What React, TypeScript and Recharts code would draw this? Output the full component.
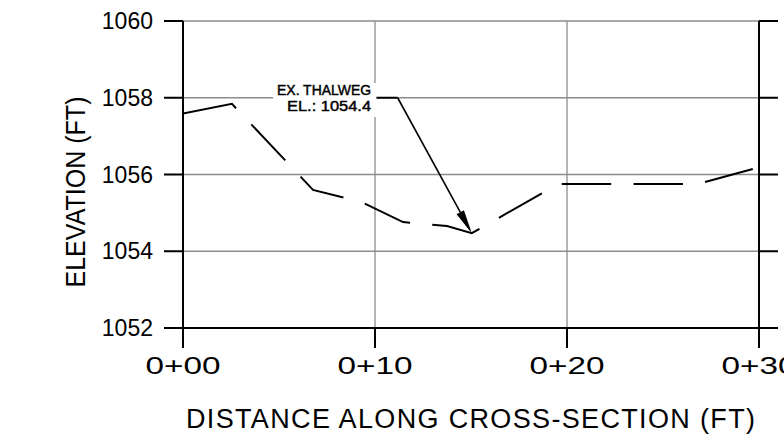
import React from 'react';
import {
  ComposedChart,
  Line,
  XAxis,
  YAxis,
  CartesianGrid,
  ReferenceLine,
  ReferenceArea,
} from 'recharts';

// ---- data ----
const distanceFt = [0, 2.55, 6.77, 9.32, 11.46, 13.75, 15.04, 19.53, 26.8, 30];
const elevationFt = [1057.59, 1057.84, 1055.6, 1055.28, 1054.76, 1054.66, 1054.47, 1055.75, 1055.75, 1056.19];
const xTickValues = [0, 10, 20, 30];
const xTickLabels = ['0+00', '0+10', '0+20', '0+30'];
const yTickValues = [1052, 1054, 1056, 1058, 1060];
const calloutLines = ['EX. THALWEG', 'EL.: 1054.4'];
const thalwegPoint = { x: 15.04, y: 1054.47 };
const leaderBend = { x: 11.18, y: 1058 };
const calloutBox = { x1: 4.69, x2: 10.08, y1: 1057.5, y2: 1058.385 };
const xTitle = 'DISTANCE  ALONG  CROSS-SECTION  (FT)';
const yTitle = 'ELEVATION  (FT)';

const data = distanceFt.map((d, i) => ({ d, e: elevationFt[i] }));

const FONT = "'Liberation Sans', Arial, sans-serif";

const XTick = (props: any) => {
  const { x, y, payload } = props;
  const idx = xTickValues.indexOf(payload.value);
  const label = idx >= 0 ? xTickLabels[idx] : String(payload.value);
  return (
    <text
      x={x}
      y={y + 26}
      textAnchor="middle"
      fontFamily={FONT}
      fontSize={24}
      fill="#000"
      textLength={75}
      lengthAdjust="spacingAndGlyphs"
    >
      {label}
    </text>
  );
};

const XTitle = () => (
  <text
    x={470.5}
    y={428}
    textAnchor="middle"
    fontFamily={FONT}
    fontSize={27}
    fill="#000"
    textLength={569}
    lengthAdjust="spacing"
  >
    {xTitle}
  </text>
);

const YTitle = () => (
  <text
    x={85}
    y={192}
    transform="rotate(-90, 85, 192)"
    textAnchor="middle"
    fontFamily={FONT}
    fontSize={27}
    fill="#000"
    textLength={191}
    lengthAdjust="spacingAndGlyphs"
  >
    {yTitle}
  </text>
);

const ArrowShape = (props: any) => {
  const x1 = Number(props.x1);
  const y1 = Number(props.y1);
  const x2 = Number(props.x2);
  const y2 = Number(props.y2);
  const dx = x2 - x1;
  const dy = y2 - y1;
  const len = Math.hypot(dx, dy) || 1;
  const ux = dx / len;
  const uy = dy / len;
  const L = 24;
  const W = 4.2;
  const bx = x2 - ux * L;
  const by = y2 - uy * L;
  const px = -uy;
  const py = ux;
  return (
    <g>
      <line x1={x1} y1={y1} x2={bx} y2={by} stroke="#000" strokeWidth={1.6} />
      <polygon
        points={`${x2},${y2} ${bx + px * W},${by + py * W} ${bx - px * W},${by - py * W}`}
        fill="#000"
      />
    </g>
  );
};

const CalloutShape = (props: any) => {
  const x = Number(props.x);
  const y = Number(props.y);
  const width = Number(props.width);
  const height = Number(props.height);
  const right = x + width - 5.5;
  return (
    <g>
      <rect x={x} y={y} width={width} height={height} fill="#fff" stroke="none" />
      <text
        x={right}
        y={y + 12.5}
        textAnchor="end"
        fontFamily={FONT}
        fontSize={15}
        fill="#000"
        stroke="#000"
        strokeWidth={0.45}
        textLength={94}
        lengthAdjust="spacingAndGlyphs"
      >
        {calloutLines[0]}
      </text>
      <text
        x={right}
        y={y + 28}
        textAnchor="end"
        fontFamily={FONT}
        fontSize={15}
        fill="#000"
        stroke="#000"
        strokeWidth={0.45}
        textLength={84}
        lengthAdjust="spacingAndGlyphs"
      >
        {calloutLines[1]}
      </text>
    </g>
  );
};

export default function App() {
  return (
    <div style={{ position: 'absolute', left: 0, top: 0, width: 784, height: 445, background: '#fff' }}>
      <ComposedChart
        width={784}
        height={445}
        data={data}
        margin={{ top: 21, right: 0, bottom: 0, left: 0 }}
      >
        <CartesianGrid stroke="#8c8c8c" strokeWidth={1.3} />
        <XAxis
          dataKey="d"
          type="number"
          domain={[0, 30]}
          ticks={xTickValues}
          allowDataOverflow
          height={117}
          tickSize={20}
          tickMargin={0}
          axisLine={{ stroke: '#000', strokeWidth: 2 }}
          tickLine={{ stroke: '#000', strokeWidth: 2 }}
          tick={<XTick />}
          label={<XTitle />}
          interval={0}
        />
        <YAxis
          type="number"
          domain={[1052, 1060]}
          ticks={yTickValues}
          allowDataOverflow
          width={183}
          tickSize={19}
          tickMargin={11}
          axisLine={{ stroke: '#000', strokeWidth: 2 }}
          tickLine={{ stroke: '#000', strokeWidth: 2 }}
          tick={{ fontFamily: FONT, fontSize: 23, fill: '#000' }}
          label={<YTitle />}
          interval={0}
        />
        <YAxis
          yAxisId="right"
          orientation="right"
          type="number"
          domain={[1052, 1060]}
          ticks={yTickValues}
          allowDataOverflow
          width={25}
          tickSize={19}
          axisLine={{ stroke: '#000', strokeWidth: 2 }}
          tickLine={{ stroke: '#000', strokeWidth: 2 }}
          tick={{ fill: 'transparent', fontSize: 1 }}
          tickFormatter={() => ''}
          interval={0}
        />
        <ReferenceArea
          x1={calloutBox.x1}
          x2={calloutBox.x2}
          y1={calloutBox.y1}
          y2={calloutBox.y2}
          shape={CalloutShape}
          ifOverflow="visible"
        />
        <ReferenceLine
          segment={[
            { x: calloutBox.x2, y: leaderBend.y },
            { x: leaderBend.x, y: leaderBend.y },
          ]}
          stroke="#000"
          strokeWidth={2}
          ifOverflow="visible"
        />
        <ReferenceLine
          segment={[
            { x: leaderBend.x, y: leaderBend.y },
            { x: thalwegPoint.x, y: thalwegPoint.y },
          ]}
          shape={ArrowShape}
          ifOverflow="visible"
        />
        <Line
          dataKey="e"
          type="linear"
          stroke="#000"
          strokeWidth={2}
          dot={false}
          activeDot={false}
          strokeDasharray="55.8 22.3 49.5 22.3 49.5 22.3 49.5 22.3 49.5 22.3 49.5 22.3 49.5 22.3 49.5 22.3 49.5 22.3 49.5 22.3"
          isAnimationActive={false}
        />
      </ComposedChart>
    </div>
  );
}
